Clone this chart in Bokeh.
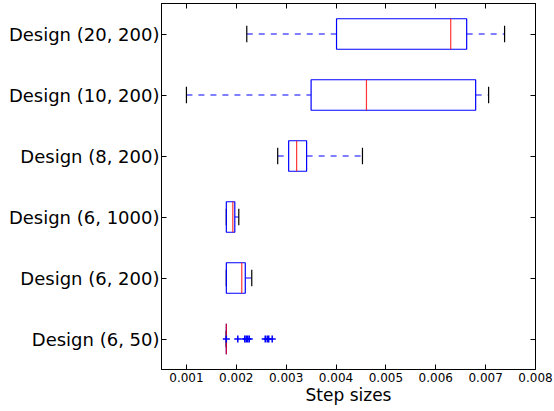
from bokeh.plotting import figure
from bokeh.models import (Range1d, FixedTicker, LinearAxis, PrintfTickFormatter,
                          ColumnDataSource)
from bokeh.embed import file_html
from bokeh.resources import INLINE

designs = ["Design (6, 50)", "Design (6, 200)", "Design (6, 1000)",
           "Design (8, 200)", "Design (10, 200)", "Design (20, 200)"]
whisker_low = [0.0018, 0.0018, 0.0018, 0.00283, 0.0010, 0.00221]
q1 = [0.0018, 0.0018, 0.0018, 0.00305, 0.0035, 0.00401]
median = [0.0018, 0.00211, 0.00193, 0.00321, 0.00461, 0.0063]
q3 = [0.0018, 0.00218, 0.00197, 0.00341, 0.0068, 0.00662]
whisker_high = [0.0018, 0.00231, 0.00205, 0.00453, 0.00706, 0.00738]
outlier_design = "Design (6, 50)"
outliers = [0.0018, 0.00203, 0.00217, 0.0022, 0.00223, 0.00226,
            0.00258, 0.00262, 0.00265, 0.00272]
x_ticks = [0.001, 0.002, 0.003, 0.004, 0.005, 0.006, 0.007, 0.008]

pos = [i + 1 for i in range(len(designs))]
box_h = 0.5
cap_h = 0.27

src = ColumnDataSource(dict(
    pos=pos, wl=whisker_low, q1=q1, med=median, q3=q3, wh=whisker_high,
    lo=[y - box_h / 2 for y in pos], hi=[y + box_h / 2 for y in pos],
    clo=[y - cap_h / 2 for y in pos], chi=[y + cap_h / 2 for y in pos],
))

p = figure(frame_width=374, frame_height=366, output_backend="svg",
           toolbar_location=None, x_range=Range1d(0.0005, 0.008),
           y_range=Range1d(0.5, len(designs) + 0.5),
           min_border_left=161, min_border_right=19, min_border_top=3,
           min_border_bottom=42)

p.xgrid.visible = False
p.ygrid.visible = False
p.outline_line_color = "black"
p.outline_line_width = 1
p.background_fill_color = "white"
p.border_fill_color = "white"

FONT = "DejaVu Sans"

# whiskers
dash = "6 6"
p.segment(x0="wl", y0="pos", x1="q1", y1="pos", source=src, line_color="blue",
          line_alpha=0.5, line_width=2, line_dash=dash)
p.segment(x0="q3", y0="pos", x1="wh", y1="pos", source=src, line_color="blue",
          line_alpha=0.5, line_width=2, line_dash=dash)
# caps
p.segment(x0="wl", y0="clo", x1="wl", y1="chi", source=src, line_color="black", line_width=1.2)
p.segment(x0="wh", y0="clo", x1="wh", y1="chi", source=src, line_color="black", line_width=1.2)
# boxes
p.hbar(y="pos", left="q1", right="q3", height=box_h, source=src,
       fill_color=None, line_color="blue", line_width=1.2)
# medians
p.segment(x0="med", y0="lo", x1="med", y1="hi", source=src, line_color="red",
          line_alpha=0.8, line_width=1.2)
# outliers
oy = pos[designs.index(outlier_design)]
p.scatter(x=outliers, y=[oy] * len(outliers), marker="cross", size=7,
          line_color="blue", line_width=1.5)

# axes
xa = p.xaxis[0]
xa.ticker = FixedTicker(ticks=x_ticks)
xa.formatter = PrintfTickFormatter(format="%.3f")
xa.axis_label = "Step sizes"
xa.axis_label_text_font = FONT
xa.axis_label_text_font_size = "17px"
xa.axis_label_text_font_style = "normal"
xa.axis_label_text_color = "black"
xa.axis_label_standoff = 0
xa.major_label_text_font = FONT
xa.major_label_text_font_size = "12px"
xa.major_label_standoff = 3

ya = p.yaxis[0]
ya.ticker = FixedTicker(ticks=pos)
ya.major_label_overrides = {y: d for y, d in zip(pos, designs)}
ya.major_label_text_font = FONT
ya.major_label_text_font_size = "18px"
ya.major_label_standoff = 2

for ax in (xa, ya):
    ax.major_tick_in = 5
    ax.major_tick_out = 0
    ax.minor_tick_line_color = None
    ax.axis_line_color = "black"
    ax.major_tick_line_color = "black"
    ax.major_label_text_color = "black"

top = LinearAxis(ticker=FixedTicker(ticks=x_ticks), major_label_text_color=None,
                 major_label_standoff=0, major_tick_in=5, major_tick_out=0,
                 minor_tick_line_color=None, axis_line_color="black")
right = LinearAxis(ticker=FixedTicker(ticks=pos), major_label_text_color=None,
                   major_label_standoff=0, major_tick_in=5, major_tick_out=0,
                   minor_tick_line_color=None, axis_line_color="black")
p.add_layout(top, "above")
p.add_layout(right, "right")

open("out.html", "w").write(file_html(p, INLINE))
